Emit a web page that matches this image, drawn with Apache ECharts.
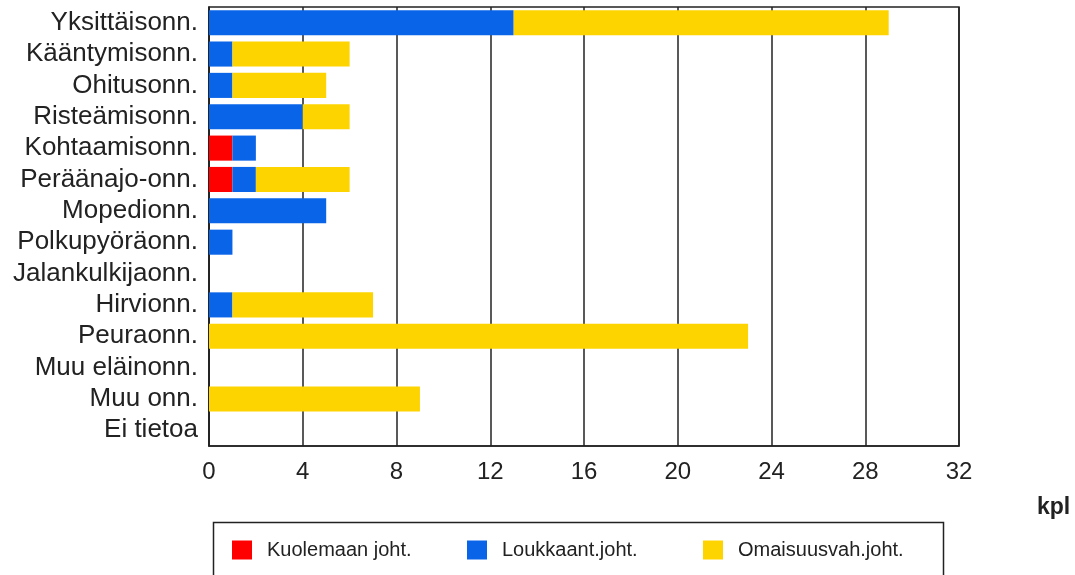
<!DOCTYPE html>
<html>
<head>
<meta charset="utf-8">
<script src="https://cdn.jsdelivr.net/npm/echarts@6/dist/echarts.min.js"></script>
<style>
  html, body { margin: 0; padding: 0; background: #fff; }
  #chart { width: 1075px; height: 575px; }
</style>
</head>
<body>
<div id="chart"></div>
<script>
// Onnettomuustyypit ja seurausluokittain kappalemäärät
var categories = [
  'Yksittäisonn.', 'Kääntymisonn.', 'Ohitusonn.', 'Risteämisonn.',
  'Kohtaamisonn.', 'Peräänajo-onn.', 'Mopedionn.', 'Polkupyöräonn.',
  'Jalankulkijaonn.', 'Hirvionn.', 'Peuraonn.', 'Muu eläinonn.',
  'Muu onn.', 'Ei tietoa'
];
var kuolemaan = [0, 0, 0, 0, 1, 1, 0, 0, 0, 0, 0, 0, 0, 0];
var loukkaant = [13, 1, 1, 4, 1, 1, 5, 1, 0, 1, 0, 0, 0, 0];
var omaisuus  = [16, 5, 4, 2, 0, 4, 0, 0, 0, 6, 23, 0, 9, 0];
var seriesNames = ['Kuolemaan joht.', 'Loukkaant.joht.', 'Omaisuusvah.joht.'];
var seriesColors = ['#ff0000', '#0a64e8', '#fdd400'];
var xTicks = { min: 0, max: 32, interval: 4 };

var FONT = '"Liberation Sans", Arial, sans-serif';

var chart = echarts.init(document.getElementById('chart'), null, { renderer: 'canvas' });

function legendFor(i, left) {
  return {
    data: [seriesNames[i]],
    left: left,
    top: 540,
    padding: 0,
    icon: 'rect',
    itemWidth: 20,
    itemHeight: 19,
    selectedMode: false,
    textStyle: { fontFamily: FONT, fontSize: 20, color: '#222', padding: [0, 0, 0, 10] }
  };
}

var option = {
  animation: false,
  backgroundColor: '#fff',
  grid: {
    left: 209, right: 116, top: 7, bottom: 129,
    show: true, borderColor: '#222', borderWidth: 1.5, backgroundColor: '#fff'
  },
  xAxis: {
    type: 'value',
    min: xTicks.min, max: xTicks.max, interval: xTicks.interval,
    axisLine: { show: true, lineStyle: { color: '#222', width: 1.5 } },
    axisTick: { show: false },
    axisLabel: { fontFamily: FONT, fontSize: 24, color: '#222', margin: 14 },
    splitLine: { show: true, lineStyle: { color: '#222', width: 1.5 } }
  },
  yAxis: {
    type: 'category',
    data: categories,
    inverse: true,
    axisLine: { show: true, lineStyle: { color: '#222', width: 1.5 } },
    axisTick: { show: false },
    axisLabel: { interval: 0, fontFamily: FONT, fontSize: 26, color: '#222', margin: 11 },
    splitLine: { show: false }
  },
  legend: [legendFor(0, 232), legendFor(1, 467), legendFor(2, 703)],
  series: [
    { name: seriesNames[0], type: 'bar', stack: 'kpl', data: kuolemaan, barWidth: '80%',
      itemStyle: { color: seriesColors[0] } },
    { name: seriesNames[1], type: 'bar', stack: 'kpl', data: loukkaant, barWidth: '80%',
      itemStyle: { color: seriesColors[1] } },
    { name: seriesNames[2], type: 'bar', stack: 'kpl', data: omaisuus, barWidth: '80%',
      itemStyle: { color: seriesColors[2] } }
  ],
  graphic: [
    {
      type: 'rect', z: -1, silent: true,
      shape: { x: 213.5, y: 522.5, width: 730, height: 70 },
      style: { fill: '#fff', stroke: '#222', lineWidth: 1.5 }
    },
    {
      type: 'text', silent: true,
      left: 1037, top: 496,
      style: { text: 'kpl', font: 'bold 23px ' + FONT, fill: '#222' }
    }
  ]
};

chart.setOption(option);
</script>
</body>
</html>
